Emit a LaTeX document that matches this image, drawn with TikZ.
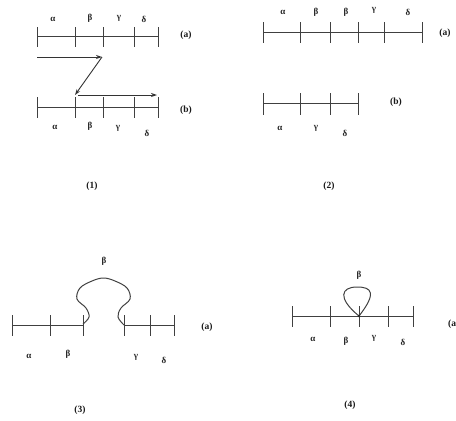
\documentclass[tikz,border=0pt]{standalone}
\usepackage{fontspec}
\setmainfont{Liberation Serif}
\usetikzlibrary{arrows.meta}
\begin{document}
\begin{tikzpicture}[x=1pt,y=-1pt,
  seg/.style={line width=1pt, draw=black!75},
  gl/.style={font=\bfseries\fontsize{9}{10}\selectfont, text=black!85, inner sep=0pt},
  lab/.style={font=\bfseries\fontsize{9.5}{11}\selectfont, text=black!90, inner sep=0pt},
  arr/.style={line width=0.9pt, draw=black!80, -{Stealth[length=6pt,width=4pt]}}]
\useasboundingbox (0,0) rectangle (456,421);

% ---------- Panel (1) ----------
\draw[seg] (37,36) -- (158,36);
\foreach \x in {37,75,103,134,158} \draw[seg] (\x,27) -- (\x,47);
\node[gl] (a1) at (53,19) {α};
\node[gl] (b1) at (90,18) {β};
\node[gl] (c1) at (119,18) {γ};
\node[gl] (d1) at (144,19) {δ};
\node[lab] (la1) at (186,35) {(a)};

\coordinate (p0) at (37,57);
\coordinate (p1) at (102,57);
\coordinate (p2) at (75,95);
\coordinate (p3) at (78,95);
\coordinate (p4) at (157,95);
\draw[arr] (p0) -- (p1);
\draw[arr] (p1) -- (p2);
\draw[arr] (p3) -- (p4);

\draw[seg] (37,107) -- (158,107);
\foreach \x in {37,75,103,134,158} \draw[seg] (\x,97) -- (\x,118);
\node[gl] (a1b) at (55,127) {α};
\node[gl] (b1b) at (90,126) {β};
\node[gl] (c1b) at (118,128) {γ};
\node[gl] (d1b) at (147,133) {δ};
\node[lab] (lb1) at (186,110) {(b)};
\node[lab] (n1) at (92,186) {(1)};

% ---------- Panel (2) ----------
\draw[seg] (263,32) -- (422,32);
\foreach \x in {263,300,330,358,384,422} \draw[seg] (\x,22) -- (\x,43);
\node[gl] (a2) at (283,12) {α};
\node[gl] (b2) at (316,12) {β};
\node[gl] (b2b) at (346,12) {β};
\node[gl] (c2) at (374,10) {γ};
\node[gl] (d2) at (408,12) {δ};
\node[lab] (la2) at (445,33) {(a)};

\draw[seg] (263,103) -- (358,103);
\foreach \x in {263,300,330,358} \draw[seg] (\x,93) -- (\x,115);
\node[gl] (a2b) at (280,128) {α};
\node[gl] (c2b) at (316,128) {γ};
\node[gl] (d2b) at (345,133) {δ};
\node[lab] (lb2) at (396,102) {(b)};
\node[lab] (n2) at (329,186) {(2)};

% ---------- Panel (3) ----------
\draw[seg] (12,325) -- (83,325);
\draw[seg] (124,325) -- (174,325);
\foreach \x in {12,50,83,124,150,174} \draw[seg] (\x,315) -- (\x,336);
\draw[seg] plot[smooth, tension=0.6] coordinates {(83,324) (89,317) (86,308) (77,299) (80,288) (92,281) (103.5,278) (115,281) (127,288) (130,299) (121,308) (118,317) (124,325)};
\node[gl] (b3t) at (104,261) {β};
\node[gl] (a3) at (29,356) {α};
\node[gl] (b3) at (68,354) {β};
\node[gl] (c3) at (136,357) {γ};
\node[gl] (d3) at (164,360) {δ};
\node[lab] (la3) at (207,327) {(a)};
\node[lab] (n3) at (80,410) {(3)};

% ---------- Panel (4) ----------
\draw[seg] (292,316) -- (413,316);
\foreach \x in {292,330,359,388,413} \draw[seg] (\x,306) -- (\x,327);
\draw[seg] (359,316) .. controls (337,298) and (341,287) .. (357,287) .. controls (372,287) and (377,293) .. (359,316);
\fill[black!85] (359,316) circle (1.4);
\node[gl] (b4t) at (359,275) {β};
\node[gl] (a4) at (313,339) {α};
\node[gl] (b4) at (346,341) {β};
\node[gl] (c4) at (374,338) {γ};
\node[gl] (d4) at (403,342) {δ};
\node[lab, anchor=west] (la4) at (448,324) {(a)};
\node[lab] (n4) at (350,405) {(4)};
\end{tikzpicture}
\end{document}
